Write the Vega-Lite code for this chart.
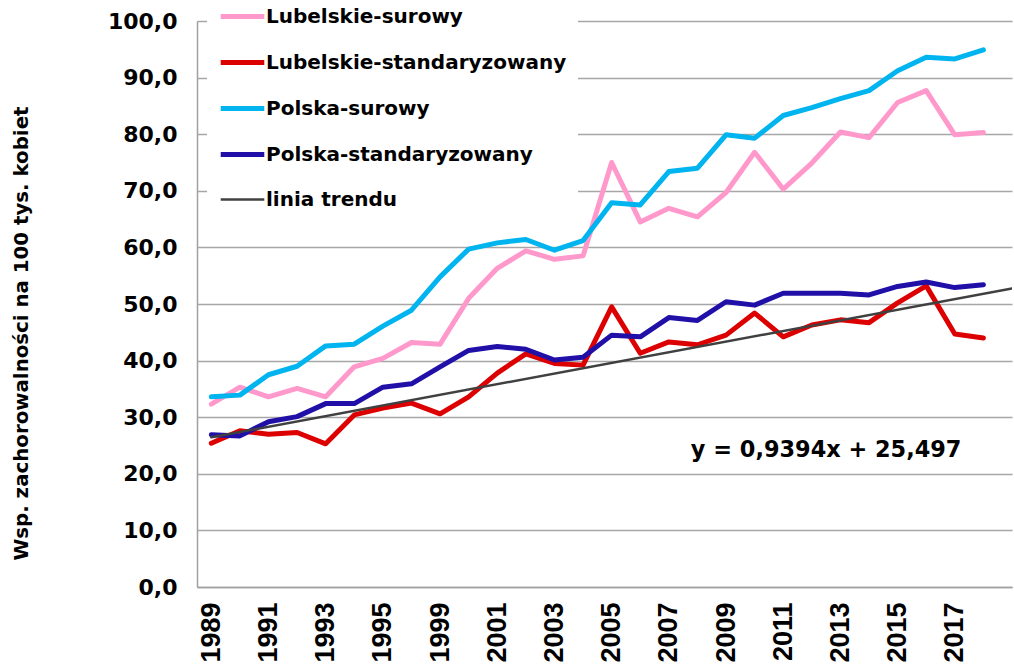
{
  "$schema": "https://vega.github.io/schema/vega-lite/v6.json",
  "autosize": {"type": "none"},
  "padding": {"left": 197, "top": 21, "right": 2, "bottom": 77},
  "width": 815,
  "height": 566,
  "background": "white",
  "config": {
    "view": {"stroke": null},
    "font": "DejaVu Sans"
  },
  "datasets": {
    "series": [
      {"series": "Lubelskie-surowy", "idx": 1, "year": "1989", "value": 32.3},
      {"series": "Lubelskie-surowy", "idx": 2, "year": "1990", "value": 35.3},
      {"series": "Lubelskie-surowy", "idx": 3, "year": "1991", "value": 33.6},
      {"series": "Lubelskie-surowy", "idx": 4, "year": "1992", "value": 35.1},
      {"series": "Lubelskie-surowy", "idx": 5, "year": "1993", "value": 33.6},
      {"series": "Lubelskie-surowy", "idx": 6, "year": "1994", "value": 38.9},
      {"series": "Lubelskie-surowy", "idx": 7, "year": "1995", "value": 40.4},
      {"series": "Lubelskie-surowy", "idx": 8, "year": "1997", "value": 43.2},
      {"series": "Lubelskie-surowy", "idx": 9, "year": "1999", "value": 42.9},
      {"series": "Lubelskie-surowy", "idx": 10, "year": "2000", "value": 51.0},
      {"series": "Lubelskie-surowy", "idx": 11, "year": "2001", "value": 56.3},
      {"series": "Lubelskie-surowy", "idx": 12, "year": "2002", "value": 59.4},
      {"series": "Lubelskie-surowy", "idx": 13, "year": "2003", "value": 57.9},
      {"series": "Lubelskie-surowy", "idx": 14, "year": "2004", "value": 58.5},
      {"series": "Lubelskie-surowy", "idx": 15, "year": "2005", "value": 75.0},
      {"series": "Lubelskie-surowy", "idx": 16, "year": "2006", "value": 64.5},
      {"series": "Lubelskie-surowy", "idx": 17, "year": "2007", "value": 66.9},
      {"series": "Lubelskie-surowy", "idx": 18, "year": "2008", "value": 65.4},
      {"series": "Lubelskie-surowy", "idx": 19, "year": "2009", "value": 69.7},
      {"series": "Lubelskie-surowy", "idx": 20, "year": "2010", "value": 76.8},
      {"series": "Lubelskie-surowy", "idx": 21, "year": "2011", "value": 70.3},
      {"series": "Lubelskie-surowy", "idx": 22, "year": "2012", "value": 74.9},
      {"series": "Lubelskie-surowy", "idx": 23, "year": "2013", "value": 80.4},
      {"series": "Lubelskie-surowy", "idx": 24, "year": "2014", "value": 79.4},
      {"series": "Lubelskie-surowy", "idx": 25, "year": "2015", "value": 85.6},
      {"series": "Lubelskie-surowy", "idx": 26, "year": "2016", "value": 87.7},
      {"series": "Lubelskie-surowy", "idx": 27, "year": "2017", "value": 79.9},
      {"series": "Lubelskie-surowy", "idx": 28, "year": "2018", "value": 80.3},

      {"series": "Lubelskie-standaryzowany", "idx": 1, "year": "1989", "value": 25.4},
      {"series": "Lubelskie-standaryzowany", "idx": 2, "year": "1990", "value": 27.6},
      {"series": "Lubelskie-standaryzowany", "idx": 3, "year": "1991", "value": 27.0},
      {"series": "Lubelskie-standaryzowany", "idx": 4, "year": "1992", "value": 27.3},
      {"series": "Lubelskie-standaryzowany", "idx": 5, "year": "1993", "value": 25.3},
      {"series": "Lubelskie-standaryzowany", "idx": 6, "year": "1994", "value": 30.4},
      {"series": "Lubelskie-standaryzowany", "idx": 7, "year": "1995", "value": 31.6},
      {"series": "Lubelskie-standaryzowany", "idx": 8, "year": "1997", "value": 32.5},
      {"series": "Lubelskie-standaryzowany", "idx": 9, "year": "1999", "value": 30.6},
      {"series": "Lubelskie-standaryzowany", "idx": 10, "year": "2000", "value": 33.6},
      {"series": "Lubelskie-standaryzowany", "idx": 11, "year": "2001", "value": 37.8},
      {"series": "Lubelskie-standaryzowany", "idx": 12, "year": "2002", "value": 41.2},
      {"series": "Lubelskie-standaryzowany", "idx": 13, "year": "2003", "value": 39.5},
      {"series": "Lubelskie-standaryzowany", "idx": 14, "year": "2004", "value": 39.2},
      {"series": "Lubelskie-standaryzowany", "idx": 15, "year": "2005", "value": 49.5},
      {"series": "Lubelskie-standaryzowany", "idx": 16, "year": "2006", "value": 41.3},
      {"series": "Lubelskie-standaryzowany", "idx": 17, "year": "2007", "value": 43.3},
      {"series": "Lubelskie-standaryzowany", "idx": 18, "year": "2008", "value": 42.8},
      {"series": "Lubelskie-standaryzowany", "idx": 19, "year": "2009", "value": 44.5},
      {"series": "Lubelskie-standaryzowany", "idx": 20, "year": "2010", "value": 48.4},
      {"series": "Lubelskie-standaryzowany", "idx": 21, "year": "2011", "value": 44.2},
      {"series": "Lubelskie-standaryzowany", "idx": 22, "year": "2012", "value": 46.3},
      {"series": "Lubelskie-standaryzowany", "idx": 23, "year": "2013", "value": 47.2},
      {"series": "Lubelskie-standaryzowany", "idx": 24, "year": "2014", "value": 46.7},
      {"series": "Lubelskie-standaryzowany", "idx": 25, "year": "2015", "value": 50.2},
      {"series": "Lubelskie-standaryzowany", "idx": 26, "year": "2016", "value": 53.2},
      {"series": "Lubelskie-standaryzowany", "idx": 27, "year": "2017", "value": 44.7},
      {"series": "Lubelskie-standaryzowany", "idx": 28, "year": "2018", "value": 44.0},

      {"series": "Polska-surowy", "idx": 1, "year": "1989", "value": 33.6},
      {"series": "Polska-surowy", "idx": 2, "year": "1990", "value": 33.9},
      {"series": "Polska-surowy", "idx": 3, "year": "1991", "value": 37.5},
      {"series": "Polska-surowy", "idx": 4, "year": "1992", "value": 39.0},
      {"series": "Polska-surowy", "idx": 5, "year": "1993", "value": 42.6},
      {"series": "Polska-surowy", "idx": 6, "year": "1994", "value": 42.9},
      {"series": "Polska-surowy", "idx": 7, "year": "1995", "value": 46.1},
      {"series": "Polska-surowy", "idx": 8, "year": "1997", "value": 48.9},
      {"series": "Polska-surowy", "idx": 9, "year": "1999", "value": 54.8},
      {"series": "Polska-surowy", "idx": 10, "year": "2000", "value": 59.7},
      {"series": "Polska-surowy", "idx": 11, "year": "2001", "value": 60.8},
      {"series": "Polska-surowy", "idx": 12, "year": "2002", "value": 61.4},
      {"series": "Polska-surowy", "idx": 13, "year": "2003", "value": 59.5},
      {"series": "Polska-surowy", "idx": 14, "year": "2004", "value": 61.2},
      {"series": "Polska-surowy", "idx": 15, "year": "2005", "value": 67.9},
      {"series": "Polska-surowy", "idx": 16, "year": "2006", "value": 67.5},
      {"series": "Polska-surowy", "idx": 17, "year": "2007", "value": 73.4},
      {"series": "Polska-surowy", "idx": 18, "year": "2008", "value": 74.0},
      {"series": "Polska-surowy", "idx": 19, "year": "2009", "value": 79.9},
      {"series": "Polska-surowy", "idx": 20, "year": "2010", "value": 79.3},
      {"series": "Polska-surowy", "idx": 21, "year": "2011", "value": 83.3},
      {"series": "Polska-surowy", "idx": 22, "year": "2012", "value": 84.7},
      {"series": "Polska-surowy", "idx": 23, "year": "2013", "value": 86.3},
      {"series": "Polska-surowy", "idx": 24, "year": "2014", "value": 87.7},
      {"series": "Polska-surowy", "idx": 25, "year": "2015", "value": 91.2},
      {"series": "Polska-surowy", "idx": 26, "year": "2016", "value": 93.6},
      {"series": "Polska-surowy", "idx": 27, "year": "2017", "value": 93.3},
      {"series": "Polska-surowy", "idx": 28, "year": "2018", "value": 94.9},

      {"series": "Polska-standaryzowany", "idx": 1, "year": "1989", "value": 26.9},
      {"series": "Polska-standaryzowany", "idx": 2, "year": "1990", "value": 26.7},
      {"series": "Polska-standaryzowany", "idx": 3, "year": "1991", "value": 29.2},
      {"series": "Polska-standaryzowany", "idx": 4, "year": "1992", "value": 30.1},
      {"series": "Polska-standaryzowany", "idx": 5, "year": "1993", "value": 32.4},
      {"series": "Polska-standaryzowany", "idx": 6, "year": "1994", "value": 32.4},
      {"series": "Polska-standaryzowany", "idx": 7, "year": "1995", "value": 35.3},
      {"series": "Polska-standaryzowany", "idx": 8, "year": "1997", "value": 35.9},
      {"series": "Polska-standaryzowany", "idx": 9, "year": "1999", "value": 38.9},
      {"series": "Polska-standaryzowany", "idx": 10, "year": "2000", "value": 41.8},
      {"series": "Polska-standaryzowany", "idx": 11, "year": "2001", "value": 42.5},
      {"series": "Polska-standaryzowany", "idx": 12, "year": "2002", "value": 42.0},
      {"series": "Polska-standaryzowany", "idx": 13, "year": "2003", "value": 40.1},
      {"series": "Polska-standaryzowany", "idx": 14, "year": "2004", "value": 40.6},
      {"series": "Polska-standaryzowany", "idx": 15, "year": "2005", "value": 44.5},
      {"series": "Polska-standaryzowany", "idx": 16, "year": "2006", "value": 44.2},
      {"series": "Polska-standaryzowany", "idx": 17, "year": "2007", "value": 47.6},
      {"series": "Polska-standaryzowany", "idx": 18, "year": "2008", "value": 47.1},
      {"series": "Polska-standaryzowany", "idx": 19, "year": "2009", "value": 50.4},
      {"series": "Polska-standaryzowany", "idx": 20, "year": "2010", "value": 49.8},
      {"series": "Polska-standaryzowany", "idx": 21, "year": "2011", "value": 51.9},
      {"series": "Polska-standaryzowany", "idx": 22, "year": "2012", "value": 51.9},
      {"series": "Polska-standaryzowany", "idx": 23, "year": "2013", "value": 51.9},
      {"series": "Polska-standaryzowany", "idx": 24, "year": "2014", "value": 51.6},
      {"series": "Polska-standaryzowany", "idx": 25, "year": "2015", "value": 53.1},
      {"series": "Polska-standaryzowany", "idx": 26, "year": "2016", "value": 53.9},
      {"series": "Polska-standaryzowany", "idx": 27, "year": "2017", "value": 52.9},
      {"series": "Polska-standaryzowany", "idx": 28, "year": "2018", "value": 53.4},

      {"series": "linia trendu", "idx": 1, "year": "1989", "value": 26.44},
      {"series": "linia trendu", "idx": 29, "year": "", "value": 52.74}
    ],
    "note": [
      {"label": "y = 0,9394x + 25,497", "idx": 22.5, "value": 24.2}
    ]
  },
  "layer": [
    {
      "data": {"name": "series"},
      "mark": {"type": "line", "strokeJoin": "round", "strokeCap": "round", "clip": true},
      "encoding": {
        "x": {
          "field": "idx", "type": "quantitative",
          "scale": {"domain": [0.5, 29], "nice": false, "zero": false},
          "axis": {
            "title": null,
            "values": [1, 3, 5, 7, 9, 11, 13, 15, 17, 19, 21, 23, 25, 27],
            "labelExpr": "datum.value <= 7 ? '' + (1988 + datum.value) : '' + (1990 + datum.value)",
            "labelAngle": -90,
            "labelAlign": "right",
            "labelBaseline": "middle",
            "labelFont": "Liberation Sans",
            "labelFontSize": 27,
            "labelFontWeight": "bold",
            "labelColor": "#000000",
            "labelPadding": 15,
            "ticks": false,
            "grid": false,
            "domainColor": "#A0A0A0",
            "domainWidth": 1.5,
            "labelOverlap": false
          }
        },
        "y": {
          "field": "value", "type": "quantitative",
          "scale": {"domain": [0, 100], "nice": false},
          "axis": {
            "title": "Wsp. zachorowalności na 100 tys. kobiet",
            "titleFont": "DejaVu Sans",
            "titleFontSize": 19.8,
            "titleFontWeight": "bold",
            "titleColor": "#000000",
            "titleAngle": -90,
            "titleX": -176,
            "titleY": 312,
            "titleAlign": "center",
            "titleBaseline": "middle",
            "values": [0, 10, 20, 30, 40, 50, 60, 70, 80, 90, 100],
            "labelExpr": "replace(format(datum.value, '.1f'), '.', ',')",
            "labelFont": "DejaVu Sans",
            "labelFontSize": 22,
            "labelFontWeight": "bold",
            "labelColor": "#000000",
            "labelPadding": 20,
            "ticks": false,
            "gridColor": "#A6A6A6",
            "gridWidth": 1.5,
            "domainColor": "#A0A0A0",
            "domainWidth": 1.5
          }
        },
        "color": {
          "field": "series", "type": "nominal",
          "scale": {
            "domain": ["Lubelskie-surowy", "Lubelskie-standaryzowany", "Polska-surowy", "Polska-standaryzowany", "linia trendu"],
            "range": ["#FF99CC", "#DD0000", "#00B4F0", "#2010A8", "#404040"]
          },
          "legend": {
            "title": null,
            "orient": "none",
            "legendX": 10,
            "legendY": -40,
            "fillColor": "white",
            "padding": 11,
            "symbolType": "stroke",
            "symbolSize": 1900,
            "symbolStrokeWidth": 5,
            "rowPadding": 11,
            "labelFont": "DejaVu Sans",
            "labelFontSize": 20,
            "labelFontWeight": "bold",
            "labelColor": "#000000",
            "labelOffset": -1,
            "labelLimit": 400
          }
        },
        "strokeWidth": {
          "field": "series", "type": "nominal",
          "scale": {
            "type": "ordinal",
            "domain": ["Lubelskie-surowy", "Lubelskie-standaryzowany", "Polska-surowy", "Polska-standaryzowany", "linia trendu"],
            "range": [5, 5, 5, 5, 2.5]
          },
          "legend": null
        },
        "order": {"field": "idx", "type": "quantitative"}
      }
    },
    {
      "data": {"name": "note"},
      "mark": {"type": "text", "font": "DejaVu Sans", "fontSize": 22.4, "fontWeight": "bold", "color": "#000000", "align": "center", "baseline": "middle"},
      "encoding": {
        "x": {"field": "idx", "type": "quantitative"},
        "y": {"field": "value", "type": "quantitative"},
        "text": {"field": "label"}
      }
    }
  ]
}
